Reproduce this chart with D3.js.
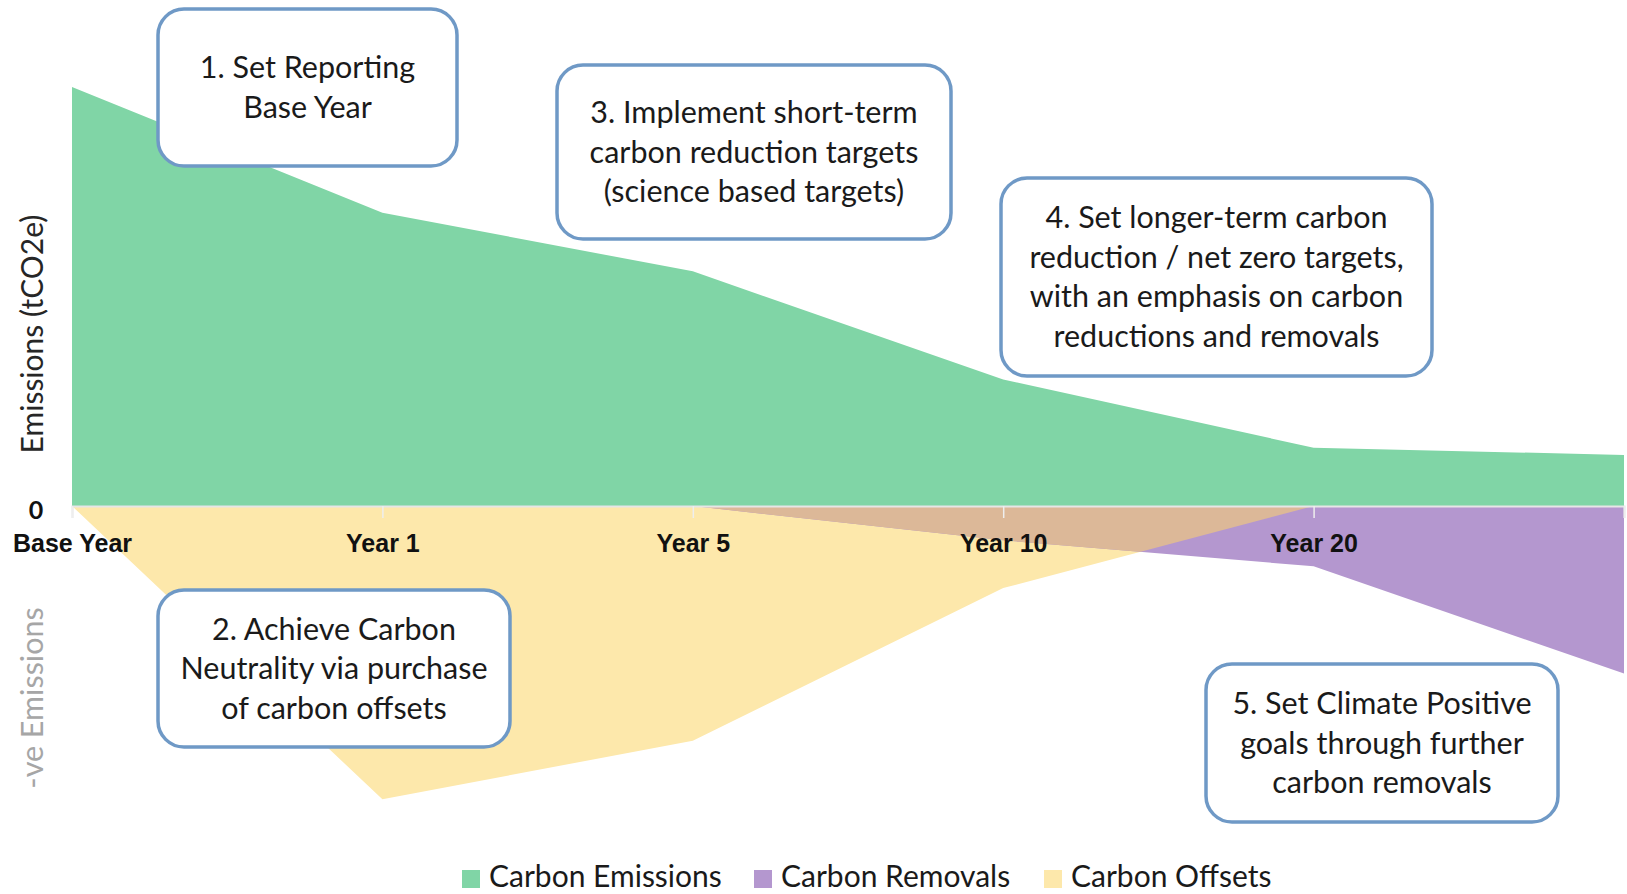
<!DOCTYPE html>
<html>
<head>
<meta charset="utf-8">
<script src="https://cdn.jsdelivr.net/npm/d3@7"></script>
<style>
  body { margin: 0; background: #fff; }
  svg { display: block; font-family: Lato, "Open Sans", sans-serif; }
</style>
</head>
<body>
<div id="chart"></div>
<script>
// categories along the bottom (last point has no label)
const categories = ['Base Year', 'Year 1', 'Year 5', 'Year 10', 'Year 20', '']
// tCO2e (base year emissions = 100)
const emissions = [100, 70, 56, 30.2, 13.9, 12.2]
const offsets = [0, -70, -56, -19.6, 0, 0]
const removals = [0, 0, 0, -8.2, -14.4, -40]
const legendLabels = ['Carbon Emissions', 'Carbon Removals', 'Carbon Offsets']

const notes = [
  ['1. Set Reporting', 'Base Year'],
  ['2. Achieve Carbon', 'Neutrality via purchase', 'of carbon offsets'],
  ['3. Implement short-term', 'carbon reduction targets', '(science based targets)'],
  ['4. Set longer-term carbon', 'reduction / net zero targets,', 'with an emphasis on carbon', 'reductions and removals'],
  ['5. Set Climate Positive', 'goals through further', 'carbon removals']
]
// box layout [x, y, w, h]
const noteBoxes = [
  [158, 9, 299, 157],
  [158, 590, 352, 157],
  [557, 65, 394, 174],
  [1001, 178, 431, 198],
  [1206, 664, 352, 158]
]

const colors = {
  emissions: '#80d5a6',
  offsets: '#fde8ab',
  removals: '#b497cf',
  overlap: '#dcb898'
}

const W = 1627, H = 894

const svg = d3.select('#chart')
  .append('svg')
  .attr('width', W)
  .attr('height', H)

const x = d3.scalePoint().domain(d3.range(categories.length)).range([72, 1624])
const y = d3.scaleLinear().domain([-80, 100]).range([506 + 80 * 4.19, 87])

const rows = categories.map((c, i) => ({
  i, e: emissions[i], o: offsets[i], r: removals[i]
}))

const area = key => d3.area()
  .x(d => x(d.i))
  .y0(y(0))
  .y1(d => y(d[key]))(rows)

svg.append('path').attr('d', area('e')).style('fill', colors.emissions)
svg.append('path').attr('d', area('o')).style('fill', colors.offsets)
svg.append('path').attr('d', area('r')).style('fill', colors.removals)

// where offsets and removals overlap the colours mix
svg.append('clipPath').attr('id', 'remClip')
  .append('path').attr('d', area('r'))
svg.append('path')
  .attr('d', area('o'))
  .attr('clip-path', 'url(#remClip)')
  .style('fill', colors.overlap)

// category axis at zero
const xAxis = svg.append('g')
  .attr('transform', `translate(0, ${y(0)})`)
  .call(d3.axisBottom(x).tickSize(12).tickFormat(i => categories[i]))
xAxis.select('.domain').attr('stroke', '#e6e6e6').attr('stroke-width', 2)
xAxis.selectAll('.tick line').attr('stroke', '#eeeeee').attr('stroke-width', 1.5)
xAxis.selectAll('.tick text')
  .attr('y', 0)
  .attr('dy', 46)
  .style('font-size', '25px')
  .style('font-weight', 'bold')
  .style('fill', '#111')

svg.append('text')
  .attr('x', 36).attr('y', y(0) + 13)
  .attr('text-anchor', 'middle')
  .style('font-size', '25px').style('font-weight', 'bold').style('fill', '#111')
  .text('0')

svg.append('text')
  .attr('transform', `translate(43, 334) rotate(-90)`)
  .attr('text-anchor', 'middle')
  .style('font-size', '30px').style('fill', '#262626')
  .text('Emissions (tCO2e)')

svg.append('text')
  .attr('transform', `translate(43, 698) rotate(-90)`)
  .attr('text-anchor', 'middle')
  .style('font-size', '30.5px').style('fill', '#a6a6a6')
  .text('-ve Emissions')

// annotation boxes
notes.forEach((lines, k) => {
  const [bx, by, bw, bh] = noteBoxes[k]
  const g = svg.append('g')
  g.append('rect')
    .attr('x', bx).attr('y', by)
    .attr('width', bw).attr('height', bh)
    .attr('rx', 26)
    .style('fill', '#fff')
    .style('stroke', '#6f99c6')
    .style('stroke-width', 3.5)
  const lh = 39.5
  const top = by + bh / 2 - (lines.length - 1) * lh / 2
  lines.forEach((t, j) => {
    g.append('text')
      .attr('x', bx + bw / 2)
      .attr('y', top + j * lh)
      .attr('dy', '0.35em')
      .attr('text-anchor', 'middle')
      .style('font-size', '30.5px')
      .style('fill', '#1a1a1a')
      .text(t)
  })
})

// legend
const legendX = [462, 754, 1044]
const legendColors = [colors.emissions, colors.removals, colors.offsets]
legendLabels.forEach((l, k) => {
  svg.append('rect')
    .attr('x', legendX[k]).attr('y', 870)
    .attr('width', 18).attr('height', 18)
    .style('fill', legendColors[k])
  svg.append('text')
    .attr('x', legendX[k] + 27).attr('y', 887)
    .style('font-size', '30px').style('fill', '#1a1a1a')
    .text(l)
})
</script>
</body>
</html>
